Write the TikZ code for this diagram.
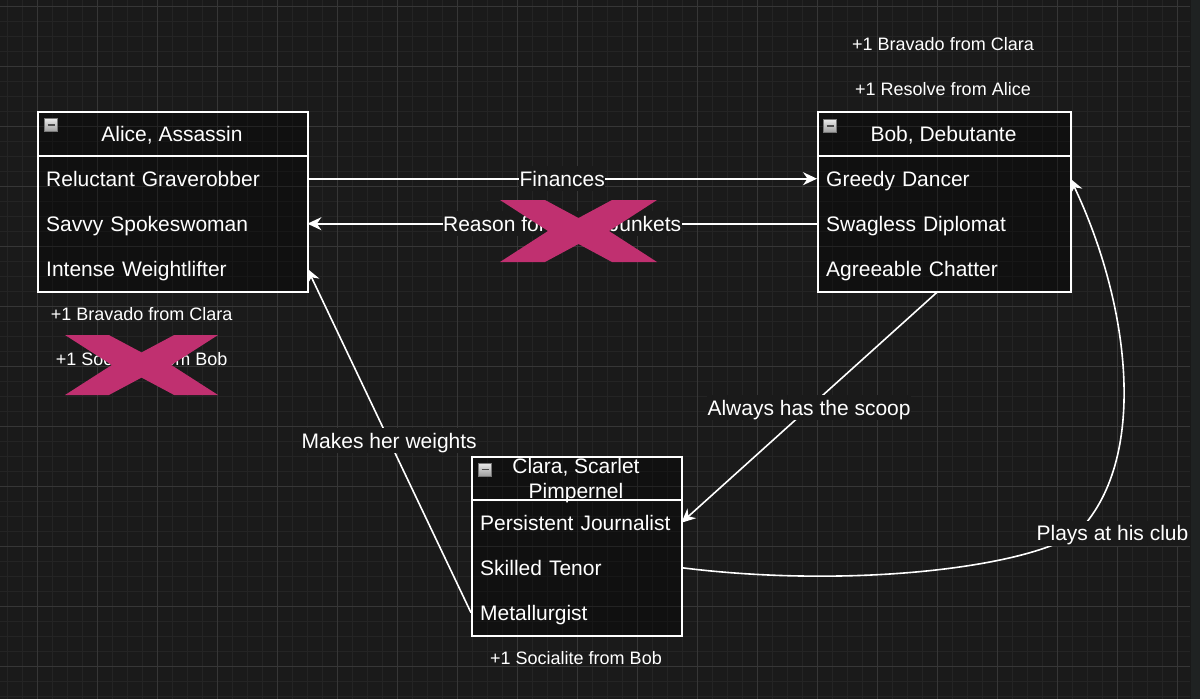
\documentclass[tikz,border=0pt]{standalone}
\usepackage{fontspec}
\setmainfont{Liberation Sans}
\usetikzlibrary{arrows.meta}
\definecolor{bgc}{RGB}{26,26,26}
\definecolor{gminor}{RGB}{36,36,36}
\definecolor{gmajor}{RGB}{54,54,54}
\definecolor{xcol}{RGB}{192,48,112}
\definecolor{stripc}{RGB}{31,34,34}
\definecolor{iconedge}{RGB}{120,120,120}
\begin{document}
\begin{tikzpicture}[x=1pt,y=-1pt,
  boxframe/.style={draw=white, line width=1.5pt, fill=black, fill opacity=0.35, inner sep=0pt, anchor=north west},
  rowtext/.style={inner xsep=9pt, inner ysep=0pt, minimum height=45pt, text height=15pt, text depth=0pt,
    font=\fontsize{21}{25}\selectfont, text=white, anchor=north west, align=left},
  hdr/.style={inner sep=0pt, text height=15pt, text depth=0pt, font=\fontsize{21}{25}\selectfont, text=white},
  hdrtwo/.style={inner sep=0pt, font=\fontsize{21}{25}\selectfont, text=white, align=center},
  sep/.style={draw=white, line width=1.5pt},
  icon/.style={minimum size=13pt, inner sep=0pt, draw=iconedge, line width=0.8pt,
    top color=white!92!black, bottom color=white!62!black,
    path picture={\draw[black!70, line width=1.6pt] ([xshift=-3.5pt]path picture bounding box.center) -- ([xshift=3.5pt]path picture bounding box.center);}},
  edge/.style={draw=white, line width=1.6pt, -{Stealth[length=14pt,width=13pt,inset=4.5pt]}},
  elabel/.style={fill=bgc, text=white, font=\fontsize{21}{25}\selectfont, inner xsep=0.5pt, inner ysep=2pt, text height=18pt, text depth=3pt},
  note/.style={text=white, font=\fontsize{18}{22}\selectfont, inner sep=0pt, text height=13pt, text depth=0pt},
  xmark/.pic={\fill[xcol] (0,0) -- (45,0) -- (78.5,18) -- (112,0) -- (157,0) -- (109,31) -- (157,62) -- (112,62) -- (78.5,44) -- (45,62) -- (0,62) -- (48,31) -- cycle;}
]
\useasboundingbox (0,0) rectangle (1200,699);
% background and grid
\fill[bgc] (0,0) rectangle (1200,699);
\foreach \x in {7,22,...,1192} \draw[gminor, line width=1pt] (\x,0) -- (\x,699);
\foreach \y in {6,21,...,696} \draw[gminor, line width=1pt] (0,\y) -- (1200,\y);
\foreach \x in {37,97,...,1177} \draw[gmajor, line width=1pt] (\x,0) -- (\x,699);
\foreach \y in {6,66,...,666} \draw[gmajor, line width=1pt] (0,\y) -- (1200,\y);
\fill[stripc] (1190.5,0) rectangle (1200,699);
\draw[black!90, line width=1pt] (1190,0) -- (1190,699);

% Alice
\node[boxframe, minimum width=270pt, minimum height=180pt] (alice) at (37,111) {};
\node[hdr] (aliceH) at (172,133.5) {Alice, Assassin};
\node[icon] (aliceI) at (51,125) {};
\node[rowtext, minimum width=270pt, text width=252pt] (a1) at (37,156) {Reluctant Graverobber};
\node[rowtext, minimum width=270pt, text width=252pt] (a2) at (37,201) {Savvy Spokeswoman};
\node[rowtext, minimum width=270pt, text width=252pt] (a3) at (37,246) {Intense Weightlifter};
\draw[sep] (a1.north west) -- (a1.north east);

% Bob
\node[boxframe, minimum width=253pt, minimum height=180pt] (bob) at (817,111) {};
\node[hdr] (bobH) at (943.5,133.5) {Bob, Debutante};
\node[icon] (bobI) at (830,126) {};
\node[rowtext, minimum width=253pt, text width=235pt] (b1) at (817,156) {Greedy Dancer};
\node[rowtext, minimum width=253pt, text width=235pt] (b2) at (817,201) {Swagless Diplomat};
\node[rowtext, minimum width=253pt, text width=235pt] (b3) at (817,246) {Agreeable Chatter};
\draw[sep] (b1.north west) -- (b1.north east);

% Clara
\node[boxframe, minimum width=210pt, minimum height=179pt] (clara) at (471,456) {};
\node[hdrtwo] (claraH) at (576,480.3) {Clara, Scarlet\\Pimpernel};
\node[icon] (claraI) at (485,469.5) {};
\node[rowtext, minimum width=210pt, text width=192pt] (c1) at (471,500) {Persistent Journalist};
\node[rowtext, minimum width=210pt, text width=192pt] (c2) at (471,545) {Skilled Tenor};
\node[rowtext, minimum width=210pt, text width=192pt] (c3) at (471,590) {Metallurgist};
\draw[sep] (c1.north west) -- (c1.north east);

% connectors
\draw[edge] (a1.east) -- node[elabel] (lfin) {Finances} (b1.west);
\draw[edge] (b2.west) -- node[elabel] (lrea) {Reason for\hspace{63pt}Junkets} (a2.east);
\draw[edge] (c3.west) -- node[elabel] (lmak) {Makes her weights} (a3.east);
\draw[edge] ([xshift=-7.5pt]bob.south) -- node[elabel] (lalw) {Always has the scoop} (c1.east);
\coordinate (pw) at (1080,530);
\draw[edge] (c2.east) .. controls (860,590) and (1040,565) .. (pw) .. controls (1150,455) and (1128,300) .. (b1.east);
\node[elabel] (lpla) at (1112.5,533) {Plays at his club};

% notes
\node[note] (n1) at (943,44) {+1 Bravado from Clara};
\node[note] (n2) at (943,88.8) {+1 Resolve from Alice};
\node[note] (n3) at (141.7,313.5) {+1 Bravado from Clara};
\node[note] (n4) at (141.7,358.8) {+1 Socialite from Bob};
\node[note] (n5) at (576,657.5) {+1 Socialite from Bob};

% X marks
\pic at (500,200) {xmark};
\pic[xscale=0.975,yscale=0.968] at (65,335) {xmark};
\end{tikzpicture}
\end{document}
